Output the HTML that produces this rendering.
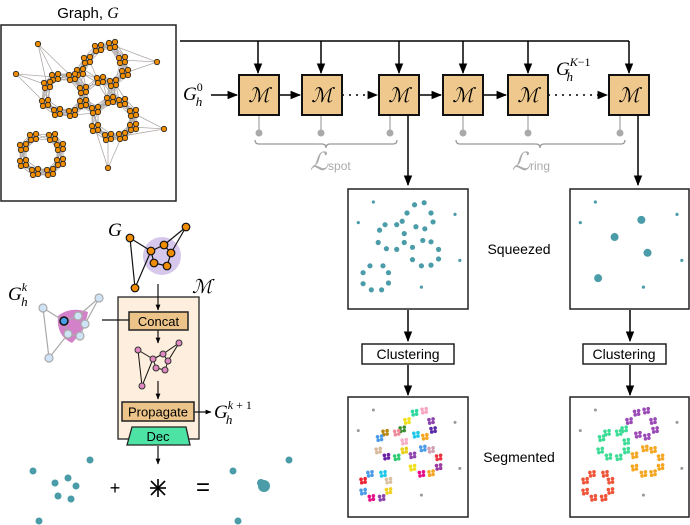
<!DOCTYPE html>
<html><head><meta charset="utf-8"><style>
html,body{margin:0;padding:0;background:#fff;}
svg{display:block;}
text{font-family:"Liberation Sans",sans-serif;}
.m{font-family:"Liberation Serif","DejaVu Serif",serif;font-style:italic;}
</style></head><body>
<svg id="fig" width="690" height="525" viewBox="0 0 690 525" xmlns="http://www.w3.org/2000/svg">
<defs>
<marker id="ah" viewBox="0 0 10 10" refX="9" refY="5" markerWidth="7" markerHeight="7" orient="auto"><path d="M0,1 L10,5 L0,9 z" fill="#000"/></marker>
<marker id="ahs" viewBox="0 0 10 10" refX="9" refY="5" markerWidth="5" markerHeight="5" orient="auto"><path d="M0,1 L10,5 L0,9 z" fill="#000"/></marker>
</defs>

<text x="88" y="18" text-anchor="middle" font-size="15">Graph, <tspan class="m" font-size="16">G</tspan></text>
<rect x="1" y="25" width="175" height="176" fill="#fff" stroke="#222" stroke-width="1.5"/>
<g id="graphEdges"></g>
<g id="graphNodes"></g>

<g stroke="#000" stroke-width="1.5" fill="none">
<line x1="180" y1="41" x2="629" y2="41"/>
<line x1="258" y1="41" x2="258" y2="73" marker-end="url(#ah)"/>
<line x1="321" y1="41" x2="321" y2="73" marker-end="url(#ah)"/>
<line x1="399" y1="41" x2="399" y2="73" marker-end="url(#ah)"/>
<line x1="463" y1="41" x2="463" y2="73" marker-end="url(#ah)"/>
<line x1="528" y1="41" x2="528" y2="73" marker-end="url(#ah)"/>
<line x1="629" y1="41" x2="629" y2="73" marker-end="url(#ah)"/>
</g>

<text x="183" y="100" class="m" font-size="19">G<tspan font-size="12" dy="-9" font-style="normal">0</tspan><tspan font-size="13" dx="-7" dy="15">h</tspan></text>
<g stroke="#000" stroke-width="1.5" fill="none">
<line x1="211" y1="95" x2="237" y2="95" marker-end="url(#ah)"/>
<line x1="279" y1="95" x2="300" y2="95" marker-end="url(#ah)"/>
<line x1="342" y1="95" x2="377" y2="95" stroke-dasharray="2,5" marker-end="url(#ah)"/>
<line x1="419" y1="95" x2="441" y2="95" marker-end="url(#ah)"/>
<line x1="483" y1="95" x2="506" y2="95" marker-end="url(#ah)"/>
<line x1="548" y1="95" x2="607" y2="95" stroke-dasharray="2,5" marker-end="url(#ah)"/>
</g>
<g id="mboxes"></g>
<text x="556" y="75" class="m" font-size="19">G<tspan font-size="12" dy="-9">K</tspan><tspan font-size="12" font-style="normal">−1</tspan><tspan font-size="13" dx="-24" dy="15">h</tspan></text>

<g stroke="#999" stroke-width="1.3" fill="none">
<path d="M255,140 q0,4 4,4 L322,144 q4,0 4,4 q0,-4 4,-4 L393,144 q4,0 4,-4"/>
<path d="M456,140 q0,4 4,4 L536,144 q4,0 4,4 q0,-4 4,-4 L621,144 q4,0 4,-4"/>
</g>
<text x="310" y="170" font-size="25" fill="#aaa" class="m">ℒ<tspan font-size="12" font-style="normal" font-family="Liberation Sans">spot</tspan></text>
<text x="512" y="170" font-size="25" fill="#aaa" class="m">ℒ<tspan font-size="12" font-style="normal" font-family="Liberation Sans">ring</tspan></text>

<g stroke="#000" stroke-width="1.5" fill="none">
<line x1="408" y1="115" x2="408" y2="185" marker-end="url(#ah)"/>
<line x1="638" y1="115" x2="638" y2="185" marker-end="url(#ah)"/>
<line x1="408" y1="310" x2="408" y2="341" marker-end="url(#ah)"/>
<line x1="630" y1="310" x2="630" y2="341" marker-end="url(#ah)"/>
<line x1="408" y1="365" x2="408" y2="395" marker-end="url(#ah)"/>
<line x1="630" y1="365" x2="630" y2="395" marker-end="url(#ah)"/>
</g>
<rect x="348" y="189" width="120" height="120" fill="#fff" stroke="#222" stroke-width="1.5"/>
<rect x="570" y="189" width="119" height="120" fill="#fff" stroke="#222" stroke-width="1.5"/>
<rect x="348" y="397" width="120" height="120" fill="#fff" stroke="#222" stroke-width="1.5"/>
<rect x="570" y="397" width="119" height="120" fill="#fff" stroke="#222" stroke-width="1.5"/>
<text x="519" y="254" text-anchor="middle" font-size="14">Squeezed</text>
<text x="519" y="462" text-anchor="middle" font-size="14">Segmented</text>
<rect x="362" y="344" width="92" height="20" fill="#fff" stroke="#222" stroke-width="1.5"/>
<text x="408" y="359" text-anchor="middle" font-size="14">Clustering</text>
<rect x="583" y="344" width="83" height="20" fill="#fff" stroke="#222" stroke-width="1.5"/>
<text x="624" y="359" text-anchor="middle" font-size="14">Clustering</text>
<g id="sqL"></g>
<g id="sqR"></g>
<g id="segL"></g>
<g id="segR"></g>

<text x="108" y="236" class="m" font-size="19">G</text>
<circle cx="162" cy="256" r="19" fill="#c8b4e6" opacity="0.75"/>
<g stroke="#111" stroke-width="1.2">
<line x1="130" y1="238" x2="151" y2="251"/><line x1="130" y1="238" x2="135" y2="288"/><line x1="135" y1="288" x2="151" y2="251"/>
<line x1="151" y1="251" x2="164" y2="245"/><line x1="164" y1="245" x2="171" y2="253"/><line x1="171" y1="253" x2="167" y2="266"/>
<line x1="167" y1="266" x2="154" y2="263"/><line x1="154" y1="263" x2="151" y2="251"/><line x1="186" y1="227" x2="164" y2="245"/><line x1="186" y1="227" x2="171" y2="253"/>
</g>
<g fill="#f08c00" stroke="#111" stroke-width="1.2">
<circle cx="130" cy="238" r="3.8"/><circle cx="186" cy="227" r="3.8"/><circle cx="151" cy="251" r="3.8"/><circle cx="164" cy="245" r="3.8"/>
<circle cx="171" cy="253" r="3.8"/><circle cx="154" cy="263" r="3.8"/><circle cx="167" cy="266" r="3.8"/><circle cx="135" cy="288" r="3.8"/>
</g>
<rect x="118" y="297" width="81" height="142" fill="#fdeedd" stroke="#222" stroke-width="1.3"/>
<text x="192" y="293" font-size="19" class="m">ℳ</text>
<text x="8" y="300" class="m" font-size="19">G<tspan font-size="12" dy="-9">k</tspan><tspan font-size="13" dx="-6" dy="15">h</tspan></text>
<path d="M58,316 Q70,306 88,312 Q85,330 72,343 Q56,336 58,316 z" fill="#c04cb0" opacity="0.7"/>
<g stroke="#aaa" stroke-width="1.2">
<line x1="43" y1="308" x2="64" y2="321"/><line x1="43" y1="308" x2="49" y2="358"/><line x1="49" y1="358" x2="68" y2="334"/>
<line x1="64" y1="321" x2="78" y2="316"/><line x1="78" y1="316" x2="99" y2="298"/><line x1="99" y1="298" x2="85" y2="324"/>
<line x1="85" y1="324" x2="80" y2="336"/><line x1="80" y1="336" x2="68" y2="334"/><line x1="64" y1="321" x2="68" y2="334"/>
</g>
<g fill="#cfe3f7" stroke="#aaa" stroke-width="1.2">
<circle cx="43" cy="308" r="4"/><circle cx="99" cy="298" r="4"/><circle cx="78" cy="316" r="4"/><circle cx="85" cy="324" r="4"/>
<circle cx="80" cy="336" r="4"/><circle cx="68" cy="334" r="4"/><circle cx="49" cy="358" r="4"/>
</g>
<circle cx="64" cy="321" r="4" fill="#4aa0e6" stroke="#111" stroke-width="1.5"/>
<line x1="102" y1="320" x2="129" y2="320" stroke="#111" stroke-width="1.2"/>
<g stroke="#111" stroke-width="1.2" fill="none">
<line x1="158" y1="284" x2="158" y2="310" marker-end="url(#ahs)"/>
<line x1="158" y1="330" x2="158" y2="343" marker-end="url(#ahs)"/>
<line x1="158" y1="381" x2="158" y2="399" marker-end="url(#ahs)"/>
<line x1="194" y1="412" x2="211" y2="412" marker-end="url(#ahs)"/>
<line x1="158" y1="446" x2="158" y2="464" marker-end="url(#ahs)"/>
</g>
<rect x="129" y="312" width="59" height="18" fill="#ecc48a" stroke="#222" stroke-width="1.5"/>
<text x="158.5" y="326" text-anchor="middle" font-size="13">Concat</text>
<g stroke="#111" stroke-width="1">
<line x1="138" y1="350" x2="153" y2="359"/><line x1="138" y1="350" x2="142" y2="386"/><line x1="142" y1="386" x2="153" y2="359"/>
<line x1="153" y1="359" x2="163" y2="354"/><line x1="163" y1="354" x2="168" y2="361"/><line x1="168" y1="361" x2="165" y2="370"/>
<line x1="165" y1="370" x2="156" y2="368"/><line x1="156" y1="368" x2="153" y2="359"/><line x1="179" y1="343" x2="163" y2="354"/><line x1="179" y1="343" x2="168" y2="361"/>
</g>
<g fill="#e088c0" stroke="#333" stroke-width="1">
<circle cx="138" cy="350" r="3"/><circle cx="179" cy="343" r="3"/><circle cx="153" cy="359" r="3"/><circle cx="163" cy="354" r="3"/>
<circle cx="168" cy="361" r="3"/><circle cx="156" cy="368" r="3"/><circle cx="165" cy="370" r="3"/><circle cx="142" cy="386" r="3"/>
</g>
<rect x="122" y="402" width="72" height="19" fill="#ecc48a" stroke="#222" stroke-width="1.5"/>
<text x="158" y="416.5" text-anchor="middle" font-size="13">Propagate</text>
<text x="214" y="418" class="m" font-size="19">G<tspan font-size="12" dy="-9">k </tspan><tspan font-size="12" font-style="normal">+ 1</tspan><tspan font-size="13" dx="-26" dy="15">h</tspan></text>
<path d="M132,427 L186,427 L190,445 L127,445 z" fill="#4de3a5" stroke="#222" stroke-width="1.3"/>
<text x="158" y="441" text-anchor="middle" font-size="13">Dec</text>

<g fill="#4a9ca8">
<circle cx="90" cy="460" r="3.5"/><circle cx="33" cy="471" r="3.5"/><circle cx="55" cy="483" r="3.5"/><circle cx="68" cy="478" r="3.5"/>
<circle cx="76" cy="486" r="3.5"/><circle cx="58" cy="496" r="3.5"/><circle cx="71" cy="499" r="3.5"/><circle cx="39" cy="521" r="3.5"/>
</g>
<text x="115" y="494" text-anchor="middle" font-size="18">+</text>
<g stroke="#000" stroke-width="1.6">
<line x1="151" y1="481" x2="165" y2="495"/><line x1="165" y1="481" x2="151" y2="495"/><line x1="158" y1="479" x2="158" y2="497"/><line x1="150" y1="488" x2="166" y2="488"/>
</g>
<text x="203" y="495" text-anchor="middle" font-size="24">=</text>
<g fill="#4a9ca8">
<circle cx="289" cy="460" r="3.5"/><circle cx="233" cy="471" r="3.5"/><circle cx="264" cy="486" r="6"/><circle cx="261" cy="483" r="4"/><circle cx="238" cy="521" r="3.5"/>
</g>
</svg>
<script>
var NS="http://www.w3.org/2000/svg";
function mk(tag,attrs,parent){var e=document.createElementNS(NS,tag);for(var k in attrs)e.setAttribute(k,attrs[k]);parent.appendChild(e);return e;}
var mboxX=[239,302,379,443,508,609];
var stemX=[259,321,390,463,528,620];
var clusters=[[98,48],[112,45],[122,60],[125,73],[113,83],[100,80],[87,60],[80,72],[72,77],[55,77],[47,85],[45,103],[57,112],[72,113],[83,103],[83,90],[95,110],[110,100],[122,102],[133,113],[133,127],[122,136],[108,137],[95,128],[33,137],[52,137],[60,147],[60,162],[50,172],[35,172],[23,163],[23,147]];
var singles=[[38,44],[16,74],[157,62],[164,129],[108,168]];
var ringOf=[0,0,0,0,0,0,0,1,1,1,1,1,1,1,1,1,2,2,2,2,2,2,2,2,3,3,3,3,3,3,3,3];
var ringCenters=[[105,70],[66,95],[114,118],[42,155]];
var segColorsL=['#2ed8a0','#f7a5c0','#8e44ad','#5b2aa8','#f5a623','#1fc8e8','#f0e020','#3a8f30','#f08c9a','#b8860b','#4a9ce8','#d9b99b','#6a1ea8','#2ecc71','#e8d020','#f7b0c8','#8e44ad','#4a9ce8','#d0a0b0','#ee3340','#9b3aa0','#f5a623','#e81088','#f0e020','#4a9ce8','#1fc8e8','#d9c0a0','#f0d020','#8e44ad','#e81088','#4a9ce8','#ee2230'];
var ringColors=['#9b4ab8','#3ddc97','#f5a623','#f0553a'];
var offs=[[-3,-2],[3,-3],[-2,3],[3,2]];

var mb=document.getElementById('mboxes');
mboxX.forEach(function(x,i){
  var s=mk('line',{x1:stemX[i],y1:115,x2:stemX[i],y2:133,stroke:'#aaa','stroke-width':1.3},mb);
  
  
  var c=mk('circle',{cx:stemX[i],cy:133,r:3.5,fill:'#aaa'},mb);
  
  
  var r=mk('rect',{x:x,y:75,width:40,height:40,fill:'#eec88c',stroke:'#111','stroke-width':2},mb);
  
  
  var t=mk('text',{x:x+20,y:102,'text-anchor':'middle','font-size':20,'class':'m'},mb);
  t.textContent='ℳ';
  
  
});
var nodes=[];
clusters.forEach(function(c,i){offs.forEach(function(o){nodes.push([c[0]+o[0],c[1]+o[1],i]);});});
var ge=document.getElementById('graphEdges'),gn=document.getElementById('graphNodes');
for(var i=0;i<nodes.length;i++){for(var j=i+1;j<nodes.length;j++){
  var dx=nodes[i][0]-nodes[j][0],dy=nodes[i][1]-nodes[j][1];
  if(dx*dx+dy*dy<330){var l=mk('line',{x1:nodes[i][0],y1:nodes[i][1],x2:nodes[j][0],y2:nodes[j][1],stroke:'#b0aaa8','stroke-width':0.8},ge);
  
  }
}}
singles.forEach(function(s){
  var d=clusters.map(function(c,i){return [(c[0]-s[0])*(c[0]-s[0])+(c[1]-s[1])*(c[1]-s[1]),i];}).sort(function(a,b){return a[0]-b[0];});
  for(var k=0;k<3;k++){var c=clusters[d[k][1]];var l=mk('line',{x1:s[0],y1:s[1],x2:c[0],y2:c[1],stroke:'#b0aaa8','stroke-width':0.8},ge);
  
  }
});
nodes.concat(singles).forEach(function(n){
  var c=mk('circle',{cx:n[0],cy:n[1],r:2.7,fill:'#f08c00',stroke:'#222','stroke-width':0.8},gn);
  
  
});
function tx(x,x0){return x0+(x-1)*0.686;}
function ty(y,y0){return y0+(y-25)*0.686;}
var sqL=document.getElementById('sqL'),sqR=document.getElementById('sqR'),segL=document.getElementById('segL'),segR=document.getElementById('segR');
clusters.forEach(function(c){
  var p=mk('circle',{cx:tx(c[0],348),cy:ty(c[1],189),r:2.6,fill:'#4a9ca8'},sqL);
  
  
});
singles.forEach(function(s){
  [[348,189,sqL,'#4a9ca8',1.6],[570,189,sqR,'#4a9ca8',1.6],[348,397,segL,'#999',1.5],[570,397,segR,'#999',1.5]].forEach(function(q){
    var p=mk('circle',{cx:tx(s[0],q[0]),cy:ty(s[1],q[1]),r:q[4],fill:q[3]},q[2]);
    
    
  });
});
ringCenters.forEach(function(c){
  var p=mk('circle',{cx:tx(c[0],570),cy:ty(c[1],189),r:4,fill:'#4a9ca8'},sqR);
  
  
});
nodes.forEach(function(n){
  var a=mk('circle',{cx:tx(n[0],348),cy:ty(n[1],397),r:1.8,fill:segColorsL[n[2]]},segL);
  
  
  var b=mk('circle',{cx:tx(n[0],570),cy:ty(n[1],397),r:1.8,fill:ringColors[ringOf[n[2]]]},segR);
  
  
});
</script>
</body></html>
